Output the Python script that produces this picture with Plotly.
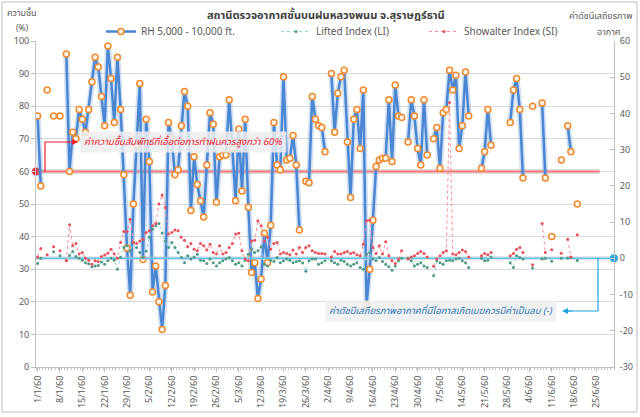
import plotly.graph_objects as go
import pandas as pd

# ---------------- data ----------------
dates = pd.date_range("2017-01-01", "2017-06-30", freq="D")
date_labels = [f"{d.day}/{d.month}/60" for d in dates]
days = list(range(len(dates)))
N = None

rh = [77, 55.5, N, 85, N, 77, N, 77, N, 96,
      60, 72, 70, 79, 76, 72, 79, 87.5, 95, 92,
      83, 74, 98.5, 88.5, 75, 95, 79, 59, 36.5, 22,
      50, 68, 87, 33, 76, 63, 23, 31, 20, 11.5,
      25, 75, 70, 59, 60.5, 74, 84.5, 80, 48, 64.5,
      56, 51, 46, 62, 78, 74.5, 50.5, 64.5, 65, 65,
      82, 67, 51, 73, 54, 76, 49, 29, 32, 21,
      27, 41, 32, 43.5, 75, 62, 60.5, 89, 63.5, 64,
      71, 62, 42, N, 57, 56.5, 83, 76, 74, 73.5,
      66, N, 90, 72, 84, 89, 91, 69, 52, 76,
      79, 67, 85, 19, 30, 45, 61.5, 63.5, 64, 64,
      82, 63, 86.5, 77, 76.5, N, 69, 82, 77, 67,
      62, 82, 65, N, 70, 73.5, 61, 78, 79, 91,
      85, 89.5, 67, 74, 90.5, 77, N, N, N, 61,
      66, 79, 68, N, N, N, N, N, 75, 85,
      88.5, 79, 58, N, N, 80, N, N, 81, 58,
      N, 40, N, N, 63.5, N, 74, 66, N, 50,
      N, N, N, N, N, N, N, N, N, N, N]

si = [0.4, 2.7, N, 1.0, N, 3.2, N, 2.1, N, -0.7,
      9.3, 3.5, 4.1, 1.2, 1.6, 0, -0.5, -1.6, -0.7, -0.9,
      0.5, 0.9, 1.4, 2.5, 1.2, 0, 4.4, 7.4, 7.4, 10.8,
      4.4, 4.1, 4.8, 5.3, 7.1, 7.6, 9, 9.6, 15, 17.5,
      14, 6.7, 7.1, 7.8, 7.6, 5.8, 5, 3.2, 4.1, 2.5,
      2.1, 4.1, 3.5, 2.3, 3.9, 1.6, 1.2, 3.5, 1.2, 1.6,
      3, 4.1, 6.7, 6.9, 2.1, -0.2, -0.7, 4.8, 5, 10.4,
      9, 4.8, 5.8, 2.5, 4.1, 4.4, 1.2, 1.6, 1.3, 1,
      2.3, 1.2, 3, 1.6, 3, 3.5, 2.1, 1.6, 1.3, 1.3,
      1.2, N, 0.4, 1.9, 1.2, 1.2, 1.6, 1.9, 1.3, 1.6,
      1, 0.7, 3.9, 10.4, 10.5, 3, 1.3, 3.5, 1.2, 4.6,
      0.7, -0.7, -1.4, -0.2, 2.1, N, -0.2, 0.4, 0.7, 1.3,
      1.9, 1.3, 0.4, N, -2.2, -0.2, 0.7, 1.6, 2.1, 43,
      1.2, 1, 1.6, 2.3, 1.9, 0.4, N, N, N, 0.7,
      1.3, 1.0, 1.6, N, N, N, N, N, 0.7, 1.3,
      2.5, 3, 1.6, N, N, -1.8, N, N, 9.6, 1.6,
      N, 2.4, N, N, 1.4, N, 5.3, 0.4, N, 6.5,
      N, N, N, N, N, N, N, N, N, N, N]

li = [-1.4, 0, N, N, N, 1.8, N, 0.7, N, -0.5,
      0.8, 1.9, 0.5, 0, -0.5, -1.2, -1.5, -2.3, -2.1, -2.0,
      -1.0, -1.6, -0.7, 0, -0.5, -3, 0.3, 3, 3.5, 2,
      4.4, 3, 1.6, 0.2, 2, 5.8, 8, 9, 9.6, 7,
      4.8, 3, 4.4, 3, 1.6, 0.2, -1.2, 0.7, -0.2, 0.4,
      1.1, -0.5, -0.7, -1.4, -0.2, -1.2, -2.1, -1.2, -0.7, -0.2,
      0.2, -0.7, -1.6, -1.2, -2.1, -0.5, 1.1, 2.5, 1.6, 2.1,
      3.2, -1.6, -2.1, -0.5, -0.9, 0.2, -1.2, -0.7, -0.2, -0.5,
      -1.2, -0.9, -0.7, -1.2, -3.6, -0.7, -0.2, -0.2, -1.6, -1.2,
      -0.7, N, -0.7, -1.2, -1.6, -0.5, -0.9, -1.6, -2.1, -1.6,
      -1.2, -2.5, -3, 1.1, 1.6, -0.2, -0.7, 0.2, -0.9, -1.6,
      -2.3, -3.3, -2.1, -0.7, 0, N, 0, -0.7, -2.1, -1.6,
      -1.2, -2.1, -2.5, N, -4.8, -0.7, -1.2, -1.6, -0.7, -0.5,
      -0.7, -0.2, 0, -0.7, -1.2, -2.5, N, N, N, 0,
      -0.7, -0.5, 0.4, N, N, N, N, N, -1.2, -2.5,
      0.7, 0.2, -0.2, N, N, -2.7, N, N, -0.2, 0,
      N, -0.8, N, N, 0, N, 0.1, 0.3, N, -0.6,
      N, N, N, N, N, N, N, N, N, N, N]

tick_days = list(range(0, 176, 7))
tick_text = [date_labels[d] for d in tick_days]

RH_THRESHOLD = 60          # % humidity threshold
THRESH_DAYS = [-0.5, 176]  # from axis start to 26/6/60
STAB_THRESHOLD = 0         # stability index threshold
STAB_DAYS = [-0.5, 180.5]

# ---------------- figure ----------------
FONT = "Noto Sans Thai, Tahoma, Noto Sans, DejaVu Sans, sans-serif"
GRAY = "#595959"

fig = go.Figure()

# threshold line (RH 60%)
fig.add_trace(go.Scatter(x=THRESH_DAYS, y=[RH_THRESHOLD] * 2, mode="lines",
                         line=dict(color="rgba(190,190,190,0.5)", width=5),
                         showlegend=False, hoverinfo="skip"))
fig.add_trace(go.Scatter(x=THRESH_DAYS, y=[RH_THRESHOLD] * 2, mode="lines",
                         line=dict(color="#FF7B7B", width=2),
                         showlegend=False, hoverinfo="skip"))
fig.add_trace(go.Scatter(x=THRESH_DAYS[:1], y=[RH_THRESHOLD], mode="markers",
                         marker=dict(color="#E8313C", size=8), cliponaxis=False,
                         showlegend=False, hoverinfo="skip"))

# zero line (stability index)
fig.add_trace(go.Scatter(x=STAB_DAYS, y=[STAB_THRESHOLD] * 2, mode="lines", yaxis="y2",
                         line=dict(color="rgba(190,190,190,0.45)", width=4),
                         showlegend=False, hoverinfo="skip"))
fig.add_trace(go.Scatter(x=STAB_DAYS, y=[STAB_THRESHOLD] * 2, mode="lines", yaxis="y2",
                         line=dict(color="#5CC6EE", width=1.5),
                         showlegend=False, hoverinfo="skip"))
fig.add_trace(go.Scatter(x=STAB_DAYS[1:], y=[STAB_THRESHOLD], mode="markers", yaxis="y2",
                         marker=dict(color="#29A8E0", size=8), cliponaxis=False,
                         showlegend=False, hoverinfo="skip"))

# LI
fig.add_trace(go.Scatter(x=days, y=li, name="Lifted Index (LI)", yaxis="y2",
                         mode="lines+markers", connectgaps=False,
                         line=dict(color="#8FD3E8", width=1, dash="dot"),
                         marker=dict(color="#4E9A86", size=3),
                         legend="legend2"))
# SI
fig.add_trace(go.Scatter(x=days, y=si, name="Showalter Index (SI)", yaxis="y2",
                         mode="lines+markers", connectgaps=False,
                         line=dict(color="#FF8C94", width=1, dash="dot"),
                         marker=dict(color="#E8505B", size=3),
                         legend="legend3"))

# RH glow + line
fig.add_trace(go.Scatter(x=days, y=rh, mode="lines", connectgaps=False,
                         line=dict(color="rgba(120,170,225,0.35)", width=6),
                         showlegend=False, hoverinfo="skip"))
fig.add_trace(go.Scatter(x=days, y=rh, name="RH 5,000 - 10,000 ft.",
                         mode="lines+markers", connectgaps=False,
                         line=dict(color="#4A86D1", width=2.5),
                         marker=dict(color="#FFF4EA", size=6, symbol="circle",
                                     line=dict(color="#F08A2C", width=1.5)),
                         legend="legend"))

W, H = 640, 417
L, R, T, B = 36, 26, 41, 50
PW, PH = W - L - R, H - T - B


def px(xp):
    return (xp - L) / PW


def py(yp):
    return (H - B - yp) / PH


legend_common = dict(orientation="h", yanchor="top", xanchor="left",
                     bgcolor="rgba(0,0,0,0)", font=dict(family=FONT, size=10, color=GRAY),
                     itemwidth=30, tracegroupgap=0, borderwidth=0)

fig.update_layout(
    width=W, height=H,
    margin=dict(l=L, r=R, t=T, b=B, autoexpand=False),
    paper_bgcolor="white", plot_bgcolor="white",
    font=dict(family=FONT, size=9, color=GRAY),
    showlegend=True,
    legend=dict(x=px(101), y=py(17), **legend_common),
    legend2=dict(x=px(276), y=py(17), **legend_common),
    legend3=dict(x=px(424), y=py(17), **legend_common),
    xaxis=dict(range=[-0.5, 180.5], tickmode="array", tickvals=tick_days, ticktext=tick_text,
               tickangle=-90, tickfont=dict(size=9, color=GRAY), showgrid=False,
               showline=True, linecolor="#BFBFBF", linewidth=1,
               ticks="outside", ticklen=4, tickcolor="#BFBFBF",
               minor=dict(tickmode="linear", tick0=-0.5, dtick=1, ticks="outside",
                          ticklen=2, tickcolor="#BFBFBF"),
               zeroline=False),
    yaxis=dict(range=[0, 100], dtick=10, showgrid=True, gridcolor="#D9D9D9", gridwidth=1,
               showline=True, linecolor="#BFBFBF", ticks="outside", ticklen=4,
               tickcolor="#BFBFBF", tickfont=dict(size=9, color=GRAY), zeroline=False),
    yaxis2=dict(range=[-30, 60], dtick=10, overlaying="y", side="right", showgrid=False,
                showline=True, linecolor="#BFBFBF", ticks="inside", ticklen=4,
                tickcolor="#BFBFBF", tickfont=dict(size=9, color=GRAY), zeroline=False,
                ticklabelstandoff=3),
)


def note(text, x, y, size=9, color=GRAY, **kw):
    d = dict(text=text, x=px(x), y=py(y), xref="paper", yref="paper", showarrow=False,
             xanchor="center", yanchor="middle", font=dict(family=FONT, size=size, color=color))
    d.update(kw)
    return d


ann = [
    note("<b>สถานีตรวจอากาศชั้นบนฝนหลวงพนม จ.สุราษฎร์ธานี</b>", 326, 15, 11, "#404040"),
    note("ความชื้น", 22, 13),
    note("(%)", 22, 28.5, 8.5),
    note("ค่าดัชนีเสถียรภาพ", 600, 16),
    note("อากาศ", 609, 32),
    note("<i>ค่าความชื้นสัมพัทธ์ที่เอื้อต่อการทำฝนควรสูงกว่า 60%</i>", 183, 142, 9.5, "#F0202E",
         bgcolor="rgba(238,238,238,0.85)", borderpad=3),
    note("<i>ค่าดัชนีเสถียรภาพอากาศที่มีโอกาสเกิดเมฆควรมีค่าเป็นลบ (-)</i>", 441, 311, 9.5, "#2E75B6",
         bgcolor="rgba(238,238,238,0.85)", borderpad=3),
    dict(text="", x=px(78), y=py(142), xref="paper", yref="paper",
         showarrow=True, ax=-12, ay=0, arrowhead=2, arrowsize=1, arrowwidth=1.2,
         arrowcolor="#F0202E"),
    dict(text="", x=px(562), y=py(311), xref="paper", yref="paper",
         showarrow=True, ax=12, ay=0, arrowhead=2, arrowsize=1, arrowwidth=1.2,
         arrowcolor="#1FA3DF"),
]
fig.update_layout(annotations=ann)

shapes = [
    dict(type="path", xref="paper", yref="paper",
         path=f"M {px(45)} {py(172)} L {px(45)} {py(142)} L {px(70)} {py(142)}",
         line=dict(color="#F0202E", width=1.2)),
    dict(type="path", xref="paper", yref="paper",
         path=f"M {px(598)} {py(258)} L {px(598)} {py(311)} L {px(568)} {py(311)}",
         line=dict(color="#1FA3DF", width=1.2)),
    dict(type="rect", xref="paper", yref="paper", x0=px(2), x1=px(637), y0=py(412), y1=py(2),
         line=dict(color="#BDBDBD", width=1), layer="below"),
]
fig.update_layout(shapes=shapes)

fig.write_html("out.html", config={"displayModeBar": False},
               post_script="document.body.style.margin='0';document.body.style.overflow='hidden';")
